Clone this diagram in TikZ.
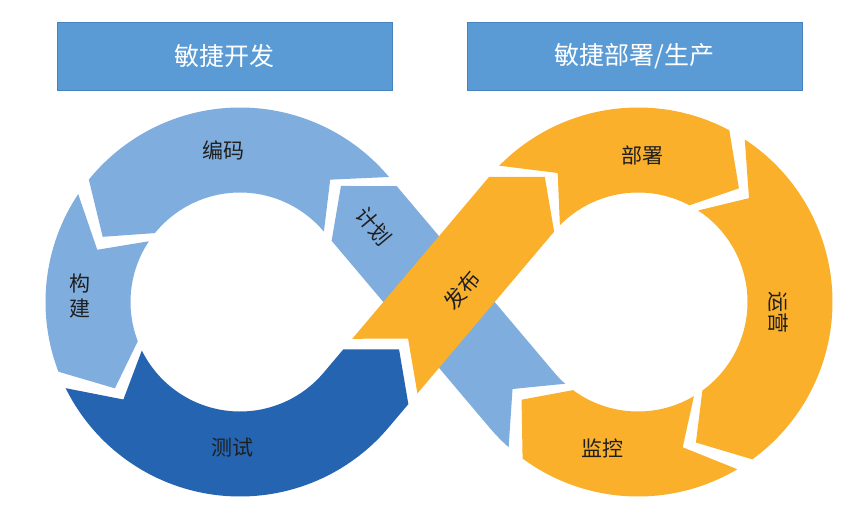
\documentclass[tikz,border=0pt]{standalone}
\usepackage{fontspec}
\newfontfamily\cjk{Noto Sans CJK SC}
\usepackage{tikz}
\usetikzlibrary{calc}

\definecolor{headblue}{RGB}{91,155,213}
\definecolor{headline}{RGB}{72,130,190}
\definecolor{lightblue}{RGB}{127,174,222}
\definecolor{darkblue}{RGB}{36,100,176}
\definecolor{loopyellow}{RGB}{250,176,42}

\def\rOut{194.5}
\def\rIn{109.5}
\def\rMid{152}

\begin{document}
\begin{tikzpicture}[x=1pt,y=1pt,
  header/.style={fill=headblue,draw=headline,line width=0.8pt,minimum width=335pt,minimum height=68pt,text=white,font=\cjk\fontsize{25}{30}\selectfont},
  stagetext/.style={text=black!88,font=\cjk\fontsize{21}{25}\selectfont,align=center,inner sep=0pt}]

\fill[white] (0,0) rectangle (854,-522);
\useasboundingbox (0,0) rectangle (854,-522);

\coordinate (L) at (240,-302);
\coordinate (R) at (638,-302);

\node[header] (dev) at (224.5,-56) {敏捷开发};
\node[header] (ops) at (634.5,-56) {敏捷部署/生产};

\fill[lightblue] ($(R)+(-131.7:\rOut)$) arc[start angle=-131.7, end angle=-140, radius=\rOut]
  -- ($(L)+(40:\rIn)+(310.2:12)$) -- ($(L)+(40:\rMid)+(130.2:24)$) -- ($(L)+(40:\rOut)+(310.2:12)$)
  -- ($(R)+(-140:\rIn)$) arc[start angle=-140, end angle=-131.7, radius=\rIn]
  -- ($(R)+(-140:\rMid)+(130.2:14)$) -- cycle;

\fill[lightblue] ($(L)+(40:\rOut)$) arc[start angle=40, end angle=141, radius=\rOut]
  -- ($(L)+(154.6:\rMid)$) -- ($(L)+(141:\rIn)$) arc[start angle=141, end angle=40, radius=\rIn]
  -- ($(L)+(53.6:\rMid)$) -- cycle;

\fill[lightblue] ($(L)+(146.3:\rOut)$) arc[start angle=146.3, end angle=201, radius=\rOut]
  -- ($(L)+(214.6:\rMid)$) -- ($(L)+(201:\rIn)$) arc[start angle=201, end angle=146.3, radius=\rIn]
  -- ($(L)+(159.9:\rMid)$) -- cycle;

\fill[darkblue] ($(L)+(206.3:\rOut)$) arc[start angle=206.3, end angle=320, radius=\rOut]
  -- ($(L)+(320:\rOut)+(49.8:30)$) -- ($(L)+(320:\rMid)+(49.8:66)$) -- ($(L)+(320:\rIn)+(49.8:30)$)
  -- ($(L)+(320:\rIn)$) arc[start angle=320, end angle=206.3, radius=\rIn]
  -- ($(L)+(219.9:\rMid)$) -- cycle;

\fill[loopyellow] ($(R)+(135.5:\rOut)$) arc[start angle=135.5, end angle=62, radius=\rOut]
  -- ($(R)+(48.4:\rMid)$) -- ($(R)+(62:\rIn)$) arc[start angle=62, end angle=135.5, radius=\rIn]
  -- ($(R)+(121.9:\rMid)$) -- cycle;

\fill[loopyellow] ($(R)+(56.7:\rOut)$) arc[start angle=56.7, end angle=-54, radius=\rOut]
  -- ($(R)+(-67.6:\rMid)$) -- ($(R)+(-54:\rIn)$) arc[start angle=-54, end angle=56.7, radius=\rIn]
  -- ($(R)+(43.1:\rMid)$) -- cycle;

\fill[loopyellow] ($(R)+(-59.3:\rOut)$) arc[start angle=-59.3, end angle=-126.4, radius=\rOut]
  -- ($(R)+(-140:\rMid)$) -- ($(R)+(-126.4:\rIn)$) arc[start angle=-126.4, end angle=-59.3, radius=\rIn]
  -- ($(R)+(-72.9:\rMid)$) -- cycle;

\fill[loopyellow] ($(L)+(320:\rOut)+(49.8:44)$) -- ($(R)+(140:\rIn)$)
  -- ($(R)+(140:\rMid)+(49.8:36)$) -- ($(R)+(140:\rOut)$)
  -- ($(L)+(320:\rIn)+(49.8:44)$) -- ($(L)+(320:\rMid)+(49.8:80)$) -- cycle;

\node[stagetext] (code) at (223,-150) {编码};
\node[stagetext] (build) at (80,-296) {构\\建};
\node[stagetext] (test) at (232,-448) {测试};
\node[stagetext,rotate=-50] (plan) at (374,-226) {计划};
\node[stagetext,rotate=50] (release) at (462,-290) {发布};
\node[stagetext] (deploy) at (642,-155) {部署};
\node[stagetext,rotate=-90] (operate) at (778,-312) {运营};
\node[stagetext] (monitor) at (602,-448) {监控};

\end{tikzpicture}
\end{document}
